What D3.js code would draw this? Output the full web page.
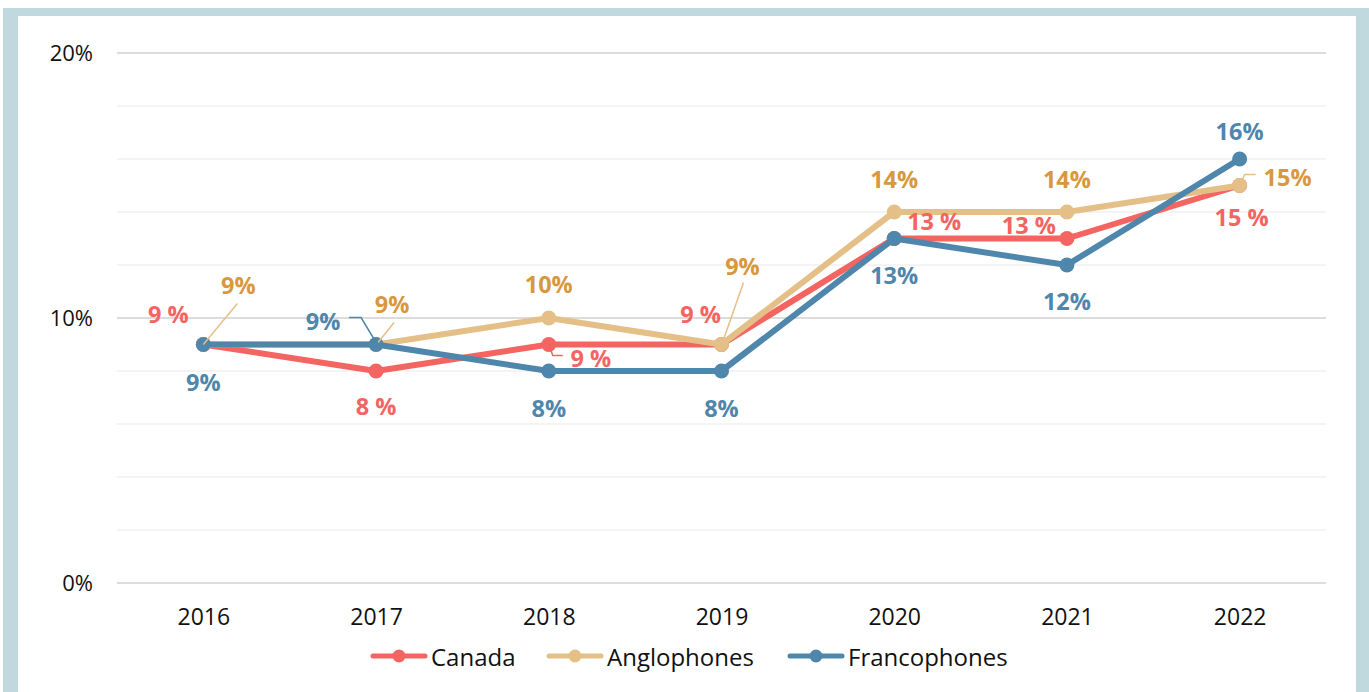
<!DOCTYPE html>
<html>
<head>
<meta charset="utf-8">
<script src="https://cdn.jsdelivr.net/npm/d3@7"></script>
<style>
  html, body { margin: 0; padding: 0; background: #fff; }
  svg { display: block; font-family: "Open Sans", sans-serif; }
</style>
</head>
<body>
<div id="chart"></div>
<script>
// data
const years = ["2016", "2017", "2018", "2019", "2020", "2021", "2022"];
const canada = [9, 8, 9, 9, 13, 13, 15];
const anglophones = [9, 9, 10, 9, 14, 14, 15];
const francophones = [9, 9, 8, 8, 13, 12, 16];
const yTicks = [0, 10, 20];
const yGrid = [0, 2, 4, 6, 8, 10, 12, 14, 16, 18, 20];

// label placement per point: [dx, dy] from the marker, optional leader path
const canadaLabels = [[-35, -31], [0, 35], [42, 13], [-21, -31], [40, -18], [-38, -14], [2, 31]];
const angloLabels  = [[35, -60], [16, -41], [0, -34], [21, -79], [0, -33], [0, -33], [48, -9]];
const francoLabels = [[0, 37], [-53, -24], [0, 37], [0, 37], [0, 36], [0, 36], [0, -28]];
const angloLeaders = { 0: [[0, 0], [34, -41]], 1: [[2, -2], [18, -22]], 3: [[1, -2], [22, -62]], 6: [[0, 0], [5, -11], [16, -11]] };
const francoLeaders = { 1: [[0, -2], [-15, -27], [-27, -27]] };
const canadaLeaders = { 2: [[0, 0], [4, 11], [14, 11]] };

const series = [
  { name: "Canada", values: canada, color: "#f46461", labelColor: "#f46461", fmt: v => v + " %", labels: canadaLabels, leaders: canadaLeaders },
  { name: "Anglophones", values: anglophones, color: "#e4c088", labelColor: "#d9973e", fmt: v => v + "%", labels: angloLabels, leaders: angloLeaders },
  { name: "Francophones", values: francophones, color: "#4f86ab", labelColor: "#4f86ab", fmt: v => v + "%", labels: francoLabels, leaders: francoLeaders }
];

const width = 1369, height = 692;
const margin = { top: 53, right: 43, bottom: 109, left: 117 };
const innerW = width - margin.left - margin.right;
const innerH = height - margin.top - margin.bottom;

const svg = d3.select("#chart").append("svg").attr("width", width).attr("height", height);

// frame
svg.append("rect").attr("x", 3).attr("y", 8).attr("width", 15).attr("height", height - 8).attr("fill", "#bfd9de");
svg.append("rect").attr("x", 3).attr("y", 8).attr("width", width - 3).attr("height", 8).attr("fill", "#bfd9de");
svg.append("rect").attr("x", 1356).attr("y", 8).attr("width", 13).attr("height", height - 8).attr("fill", "#bfd9de");

const g = svg.append("g").attr("transform", `translate(${margin.left},${margin.top})`);

const x = d3.scalePoint().domain(years).range([0, innerW]).padding(0.5);
const y = d3.scaleLinear().domain([0, 20]).range([innerH, 0]);

// grid
g.selectAll(".grid").data(yGrid).join("line")
  .attr("x1", 0).attr("x2", innerW)
  .attr("y1", d => y(d)).attr("y2", d => y(d))
  .attr("stroke", d => d % 10 === 0 ? "#dcdcdc" : "#f0f0f0")
  .attr("stroke-width", d => d % 10 === 0 ? 2 : 1.5);

// axes
const yAxis = d3.axisLeft(y).tickValues(yTicks).tickFormat(d => d + "%").tickSize(0).tickPadding(24);
const xAxis = d3.axisBottom(x).tickSize(0).tickPadding(26);
g.append("g").call(yAxis).call(s => s.select(".domain").remove())
  .selectAll("text").attr("font-size", 22).attr("fill", "#111").attr("font-family", "Open Sans");
g.append("g").attr("transform", `translate(0,${innerH})`).call(xAxis).call(s => s.select(".domain").remove())
  .selectAll("text").attr("font-size", 23).attr("fill", "#111").attr("font-family", "Open Sans");

const line = d3.line().x((d, i) => x(years[i])).y(d => y(d));

// lines + markers (draw order: canada, anglo, franco)
series.forEach(s => {
  g.append("path").datum(s.values)
    .attr("d", line).attr("fill", "none")
    .attr("stroke", s.color).attr("stroke-width", 6).attr("stroke-linejoin", "round");
  g.selectAll(null).data(s.values).join("circle")
    .attr("cx", (d, i) => x(years[i])).attr("cy", d => y(d))
    .attr("r", 7.5).attr("fill", s.color);
});

// leaders + labels
series.forEach(s => {
  s.values.forEach((v, i) => {
    const px = x(years[i]), py = y(v);
    const ld = s.leaders[i];
    if (ld) {
      g.append("path")
        .attr("d", d3.line()(ld.map(p => [px + p[0], py + p[1]])))
        .attr("fill", "none").attr("stroke", s.color).attr("stroke-width", 1.5);
    }
  });
  g.selectAll(null).data(s.values).join("text")
    .attr("x", (d, i) => x(years[i]) + s.labels[i][0])
    .attr("y", (d, i) => y(d) + s.labels[i][1])
    .attr("text-anchor", "middle").attr("dominant-baseline", "central")
    .attr("font-size", 23.5).attr("font-weight", 700).attr("fill", s.labelColor)
    .text(d => s.fmt(d));
});

// legend
const legendX = [373, 549, 790];
const legend = svg.append("g").attr("transform", "translate(0,656)");
series.forEach((s, i) => {
  const lg = legend.append("g").attr("transform", `translate(${legendX[i]},0)`);
  lg.append("line").attr("x1", 0).attr("x2", 52).attr("y1", 0).attr("y2", 0)
    .attr("stroke", s.color).attr("stroke-width", 5).attr("stroke-linecap", "round");
  lg.append("circle").attr("cx", 26).attr("cy", 0).attr("r", 6.5).attr("fill", s.color);
  lg.append("text").attr("x", 58).attr("y", 0).attr("dominant-baseline", "central")
    .attr("font-size", 24).attr("fill", "#111").text(s.name);
});
</script>
</body>
</html>
